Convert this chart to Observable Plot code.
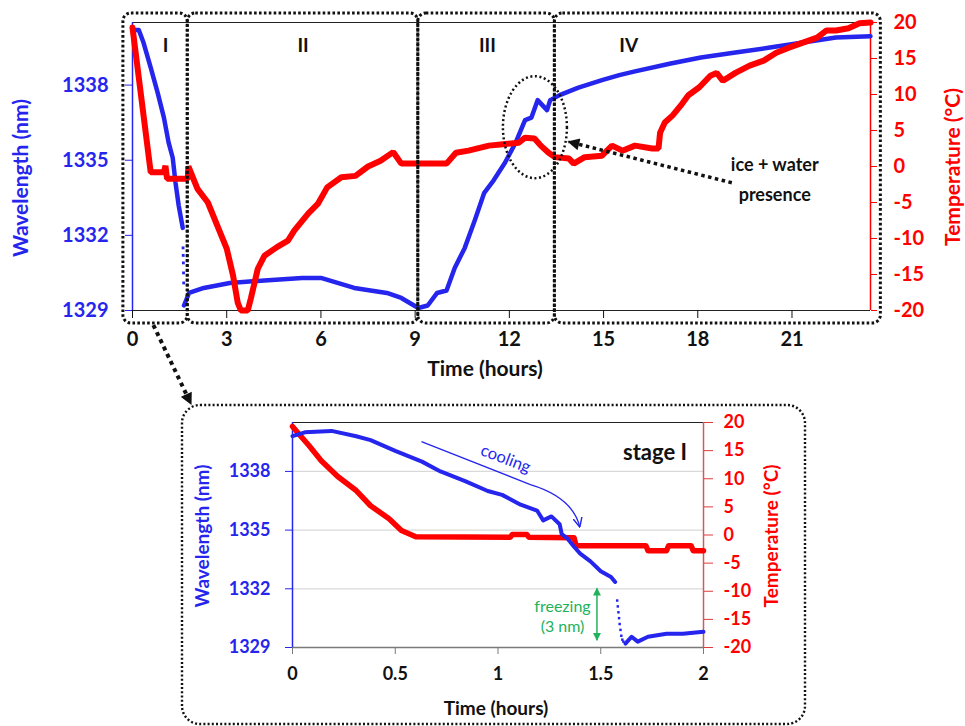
<!DOCTYPE html>
<html>
<head>
<meta charset="utf-8">
<script src="https://cdn.jsdelivr.net/npm/d3@7"></script>
<script src="https://cdn.jsdelivr.net/npm/@observablehq/plot@0.6"></script>
<style>
  body { margin: 0; background: #fff; }
  #wrap { position: relative; width: 965px; height: 726px; overflow: hidden; font-family: Lato, "Open Sans", sans-serif; }
  #main, #inset, #over { position: absolute; }
  #main { left: 0; top: 0; }
  #inset { left: 180px; top: 395px; }
  #over { left: 0; top: 0; pointer-events: none; }
</style>
</head>
<body>
<div id="wrap">
  <div id="main"></div>
  <div id="inset"></div>
  <svg id="over" width="965" height="726"></svg>
</div>
<script>
// ---------------- DATA ----------------
// Main chart: wavelength (nm) vs time (hours)
const mainWlTimeA = [0, 0.2, 0.35, 0.58, 0.8, 1.0, 1.15, 1.28, 1.37, 1.47, 1.6];
const mainWlA     = [1340.2, 1340.2, 1339.7, 1338.7, 1337.7, 1336.7, 1335.7, 1335.1, 1334.1, 1333.2, 1332.3];
const mainDropTime = [1.61, 1.615, 1.62, 1.625, 1.63];
const mainDropWl   = [1331.5, 1331.2, 1330.9, 1330.5, 1330.1];
const mainWlTimeB = [1.64, 1.8, 2.27, 3.1, 4.2, 5.4, 6.0, 7.06, 8.1, 8.56, 9.1, 9.4, 9.7, 10.0, 10.26, 10.58, 10.9, 11.2, 11.5, 11.86, 12.2, 12.5, 12.7, 12.9, 13.2, 13.3, 13.6, 14.2, 14.95, 15.5, 16.0, 17.1, 18.1, 19.2, 20.3, 21.35, 22.4, 23.5];
const mainWlB     = [1329.2, 1329.7, 1329.9, 1330.1, 1330.2, 1330.3, 1330.3, 1329.9, 1329.7, 1329.5, 1329.1, 1329.2, 1329.7, 1329.8, 1330.7, 1331.5, 1332.6, 1333.7, 1334.2, 1334.9, 1335.7, 1336.6, 1336.7, 1337.4, 1337.0, 1337.4, 1337.6, 1337.9, 1338.2, 1338.4, 1338.55, 1338.85, 1339.1, 1339.3, 1339.5, 1339.7, 1339.9, 1339.95];

// Main chart: temperature (°C) vs time (hours)
const mainTempTime = [0, 0.58, 1.0, 1.05, 1.1, 1.3, 1.76, 1.78, 2.07, 2.4, 2.7, 3.0, 3.2, 3.35, 3.45, 3.67, 3.77, 3.99, 4.2, 4.6, 4.95, 5.15, 5.6, 5.9, 6.2, 6.65, 7.1, 7.5, 7.9, 8.3, 8.56, 10.0, 10.3, 10.7, 11.35, 11.8, 12.3, 12.5, 12.8, 13.0, 13.25, 13.45, 13.9, 14.05, 14.4, 14.95, 15.27, 15.6, 16.0, 16.55, 16.75, 16.8, 16.95, 17.2, 17.5, 17.7, 18.05, 18.4, 18.6, 18.8, 19.2, 19.65, 20.1, 20.5, 20.9, 21.35, 21.8, 22.1, 22.4, 22.8, 23.15, 23.5];
const mainTemp     = [19.3, -0.8, -0.8, 0.1, -1.7, -1.7, -1.7, 0, -3.1, -5, -8.2, -11.4, -15.1, -18.9, -20, -20, -18.3, -14.2, -12.4, -11.2, -10.3, -8.9, -6.5, -5.2, -2.9, -1.5, -1.3, 0, 0.8, 2.0, 0.4, 0.4, 1.9, 2.2, 2.9, 3.1, 3.3, 4.0, 3.9, 2.9, 1.9, 1.3, 1.1, 0.4, 1.3, 1.5, 2.9, 2.2, 2.9, 2.5, 2.5, 4.7, 6.1, 7.1, 8.7, 9.9, 11.0, 12.6, 13.0, 11.9, 13.0, 14.0, 14.7, 15.8, 16.5, 17.2, 17.9, 18.9, 18.9, 19.2, 19.9, 20];

// Inset (stage I): wavelength
const insWlTimeA = [0, 0.06, 0.19, 0.31, 0.38, 0.5, 0.63, 0.72, 0.84, 0.95, 1.02, 1.11, 1.19, 1.22, 1.26, 1.3, 1.31, 1.34, 1.37, 1.4, 1.45, 1.5, 1.55, 1.57];
const insWlA     = [1339.8, 1340.0, 1340.07, 1339.8, 1339.6, 1339.05, 1338.5, 1338.0, 1337.5, 1337.0, 1336.8, 1336.3, 1336.0, 1335.5, 1335.7, 1335.3, 1334.8, 1334.55, 1334.15, 1333.8, 1333.4, 1332.9, 1332.6, 1332.35];
const insDropTime = [1.58, 1.583, 1.586, 1.589, 1.592, 1.596, 1.6, 1.605, 1.61];
const insDropWl   = [1331.4, 1331.1, 1330.8, 1330.5, 1330.2, 1329.9, 1329.6, 1329.4, 1329.3];
const insWlTimeB = [1.62, 1.65, 1.68, 1.73, 1.82, 1.9, 2.0];
const insWlB     = [1329.2, 1329.55, 1329.3, 1329.55, 1329.7, 1329.7, 1329.8];

// Inset (stage I): temperature
const insTempTime = [0, 0.03, 0.08, 0.14, 0.22, 0.31, 0.38, 0.47, 0.53, 0.6, 1.06, 1.07, 1.14, 1.15, 1.37, 1.38, 1.72, 1.73, 1.82, 1.83, 1.94, 1.95, 2.0];
const insTemp     = [19.3, 18.0, 15.9, 13.2, 10.4, 7.9, 5.2, 2.9, 0.8, -0.3, -0.4, 0.1, 0.1, -0.4, -0.5, -1.9, -1.9, -2.8, -2.8, -1.9, -1.9, -2.8, -2.8];

// Ticks and labels
const mainXTicks = [0, 3, 6, 9, 12, 15, 18, 21];
const insXTicks = [0, 0.5, 1, 1.5, 2];
const wlTicks = [1329, 1332, 1335, 1338];
const tempTicks = [-20, -15, -10, -5, 0, 5, 10, 15, 20];
const stageNames = ["I", "II", "III", "IV"];
const stageStart = [-0.29, 1.76, 9.1, 13.45];
const stageEnd   = [1.76, 9.1, 13.45, 23.83];
const stageLabelTime = [1.05, 5.43, 11.3, 15.8];

// ---------------- SCALES ----------------
const WBOT = 1329, WTOP = 1340.5;
const toW = t => WBOT + (t + 20) * (WTOP - WBOT) / 40;
const toT = w => (w - WBOT) * 40 / (WTOP - WBOT) - 20;
const BLUE = "#2525ee", RED = "#ff0000", GREEN = "#23b25c", INK = "#111";
const FONT = "Lato, 'Open Sans', sans-serif";

const zip = (ts, vs) => ts.map((t, i) => ({t, v: vs[i]}));
const mBlueA = zip(mainWlTimeA, mainWlA), mBlueB = zip(mainWlTimeB, mainWlB), mDrop = zip(mainDropTime, mainDropWl);
const mRed = zip(mainTempTime, mainTemp);
const iBlueA = zip(insWlTimeA, insWlA), iBlueB = zip(insWlTimeB, insWlB), iDrop = zip(insDropTime, insDropWl);
const iRed = zip(insTempTime, insTemp);
const stages = stageNames.map((n, i) => ({n, s: stageStart[i], e: stageEnd[i], lt: stageLabelTime[i]}));

// ---------------- MAIN PLOT ----------------
const mainPlot = Plot.plot({
  width: 965, height: 385,
  marginLeft: 132, marginRight: 95, marginTop: 22, marginBottom: 75,
  x: {domain: [0, 23.5]},
  y: {domain: [WBOT, WTOP]},
  style: {fontFamily: FONT, background: "transparent", overflow: "visible"},
  marks: [
    Plot.ruleY([WTOP], {stroke: "#222", strokeWidth: 1.2}),
    Plot.ruleY([WBOT], {stroke: "#222", strokeWidth: 1.2}),
    Plot.ruleX([0], {stroke: BLUE, strokeWidth: 1.5}),
    Plot.ruleX([23.5], {stroke: RED, strokeWidth: 1.5}),
    Plot.line(mBlueA, {x: "t", y: "v", stroke: BLUE, strokeWidth: 4.5}),
    Plot.line(mBlueB, {x: "t", y: "v", stroke: BLUE, strokeWidth: 4.5}),
    Plot.dot(mDrop, {x: "t", y: "v", r: 1.6, symbol: "square", fill: BLUE}),
    Plot.line(mRed, {x: "t", y: d => toW(d.v), stroke: RED, strokeWidth: 6, strokeLinejoin: "miter"}),
    Plot.rect(stages, {x1: "s", x2: "e", y1: () => WBOT - 0.52, y2: () => WTOP + 0.36, rx: 8,
      fill: "none", stroke: INK, strokeWidth: 3, strokeDasharray: "2.6 2.3"}),
    Plot.text(stages, {x: "lt", y: () => 1339.56, text: "n", fontSize: 19, fontWeight: "bold", fill: INK}),
    Plot.text(["ice + water", "presence"], {x: () => 20.45, y: (d, i) => i === 0 ? 1334.8 : 1333.6, text: d => d,
      fontSize: 18, fontWeight: "bold", fill: INK}),
    Plot.axisX({ticks: mainXTicks, tickSize: 8, tickPadding: 13, color: INK, fontSize: 20, fontWeight: "bold", label: null, tickFormat: d => String(d)}),
    Plot.axisY({anchor: "left", ticks: wlTicks, tickSize: 7, tickPadding: 17, color: BLUE, fontSize: 20, fontWeight: "bold", label: null, tickFormat: d => String(d)}),
    Plot.axisY({anchor: "right", ticks: tempTicks.map(toW), tickSize: 6, tickPadding: 17, color: RED, fontSize: 20, fontWeight: "bold", label: null,
      tickFormat: w => String(Math.round(toT(w)))})
  ]
});
document.getElementById("main").appendChild(mainPlot);

// ---------------- INSET PLOT ----------------
const insetPlot = Plot.plot({
  width: 625, height: 330,
  marginLeft: 112, marginRight: 102, marginTop: 27, marginBottom: 78,
  x: {domain: [0, 2]},
  y: {domain: [WBOT, WTOP]},
  style: {fontFamily: FONT, background: "transparent", overflow: "visible"},
  marks: [
    Plot.ruleY([1332, 1335, 1338], {stroke: "#d9d9d9", strokeWidth: 1.3}),
    Plot.ruleY([WTOP], {stroke: "#222", strokeWidth: 1.2}),
    Plot.ruleY([WBOT], {stroke: "#7a7a7a", strokeWidth: 1.6}),
    Plot.ruleX([0], {stroke: BLUE, strokeWidth: 1.5}),
    Plot.ruleX([2], {stroke: "#cf5b5b", strokeWidth: 1.5}),
    Plot.line(iRed, {x: "t", y: d => toW(d.v), stroke: RED, strokeWidth: 5.5}),
    Plot.line(iBlueA, {x: "t", y: "v", stroke: BLUE, strokeWidth: 4}),
    Plot.line(iBlueB, {x: "t", y: "v", stroke: BLUE, strokeWidth: 4}),
    Plot.dot(iDrop, {x: "t", y: "v", r: 1.4, symbol: "square", fill: BLUE}),
    Plot.text(["stage I"], {x: () => 1.92, y: () => 1338.95, text: d => d, textAnchor: "end", fontSize: 22, fontWeight: "bold", fill: INK}),
    Plot.text(["cooling"], {x: () => 1.037, y: () => 1338.64, text: d => d, rotate: 21, fontSize: 16.5, fill: BLUE}),
    Plot.text(["freezing", "(3 nm)"], {x: () => 1.314, y: (d, i) => i === 0 ? 1331.1 : 1330.05, text: d => d, fontSize: 16, fill: GREEN}),
    Plot.axisX({ticks: insXTicks, tickSize: 7, tickPadding: 13, stroke: "#7a7a7a", fill: INK, fontSize: 18, fontWeight: "bold", label: null, tickFormat: d => String(d)}),
    Plot.axisY({anchor: "left", ticks: wlTicks, tickSize: 7, tickPadding: 15, color: BLUE, fontSize: 18, fontWeight: "bold", label: null, tickFormat: d => String(d)}),
    Plot.axisY({anchor: "right", ticks: tempTicks.map(toW), tickSize: 9, tickPadding: 11, stroke: "#e03a3a", fill: RED, fontSize: 18, fontWeight: "bold", label: null,
      tickFormat: w => String(Math.round(toT(w)))})
  ]
});
document.getElementById("inset").appendChild(insetPlot);

// ---------------- OVERLAY ANNOTATIONS ----------------
const xm = v => mainPlot.scale("x").apply(v);
const ym = v => mainPlot.scale("y").apply(v);
const xi = v => 180 + insetPlot.scale("x").apply(v);
const yi = v => 395 + insetPlot.scale("y").apply(v);

const over = d3.select("#over");
const defs = over.append("defs");
defs.append("marker").attr("id", "blkTri").attr("viewBox", "0 0 10 10").attr("refX", 9).attr("refY", 5)
  .attr("markerUnits", "userSpaceOnUse").attr("markerWidth", 14).attr("markerHeight", 12).attr("orient", "auto")
  .append("path").attr("d", "M0,0 L10,5 L0,10 z").attr("fill", INK);
defs.append("marker").attr("id", "bluV").attr("viewBox", "0 0 10 10").attr("refX", 9).attr("refY", 5)
  .attr("markerUnits", "userSpaceOnUse").attr("markerWidth", 10).attr("markerHeight", 10).attr("orient", "auto")
  .append("path").attr("d", "M0,0.5 L9.5,5 L0,9.5").attr("fill", "none").attr("stroke", BLUE).attr("stroke-width", 1.4);
defs.append("marker").attr("id", "grnTri").attr("viewBox", "0 0 10 10").attr("refX", 9).attr("refY", 5)
  .attr("markerUnits", "userSpaceOnUse").attr("markerWidth", 9).attr("markerHeight", 8).attr("orient", "auto-start-reverse")
  .append("path").attr("d", "M0,0 L10,5 L0,10 z").attr("fill", GREEN);

// ellipse around ice+water region
over.append("ellipse")
  .attr("cx", xm(12.83)).attr("cy", ym(1336.3)).attr("rx", 32).attr("ry", 51)
  .attr("fill", "none").attr("stroke", INK).attr("stroke-width", 2.5).attr("stroke-dasharray", "2 2.6");

// arrow from text to ellipse
over.append("line")
  .attr("x1", xm(19.1)).attr("y1", ym(1334.08)).attr("x2", xm(13.9)).attr("y2", ym(1335.72))
  .attr("stroke", INK).attr("stroke-width", 3.5).attr("stroke-dasharray", "3.5 3.5").attr("marker-end", "url(#blkTri)");

// arrow from stage I box to inset
over.append("line")
  .attr("x1", xm(0.68)).attr("y1", ym(1328.4)).attr("x2", 191).attr("y2", 404)
  .attr("stroke", INK).attr("stroke-width", 4).attr("stroke-dasharray", "4 4").attr("marker-end", "url(#blkTri)");

// inset dotted rounded box
over.append("rect").attr("x", 182).attr("y", 405).attr("width", 623).attr("height", 319).attr("rx", 18)
  .attr("fill", "none").attr("stroke", INK).attr("stroke-width", 2.4).attr("stroke-dasharray", "2 2.2");

// cooling curved arrow
{
  const s = [xi(0.63), yi(1339.5)], m = [xi(1.16), yi(1337.3)], c = [xi(1.365), yi(1336.65)], e = [xi(1.4), yi(1335.15)];
  over.append("path").attr("d", `M${s} L${m} Q${c} ${e}`).attr("fill", "none").attr("stroke", BLUE).attr("stroke-width", 1.3)
    .attr("marker-end", "url(#bluV)");
}
// freezing double arrow
over.append("line")
  .attr("x1", xi(1.484)).attr("y1", yi(1332.0)).attr("x2", xi(1.484)).attr("y2", yi(1329.35))
  .attr("stroke", GREEN).attr("stroke-width", 1.5)
  .attr("marker-start", "url(#grnTri)").attr("marker-end", "url(#grnTri)");

// axis titles
function title(txt, x, y, rot, size, color) {
  over.append("text").attr("x", 0).attr("y", 0)
    .attr("transform", `translate(${x},${y}) rotate(${rot})`)
    .attr("text-anchor", "middle").attr("dominant-baseline", "middle")
    .attr("font-family", FONT).attr("font-size", size).attr("font-weight", "bold").attr("fill", color).text(txt);
}
title("Wavelength (nm)", 23, 178, -90, 21, BLUE);
title("Temperature (°C)", 955, 167, -90, 21, RED);
title("Time (hours)", 485, 371, 0, 21, INK);
title("Wavelength (nm)", 204, 536, -90, 19, BLUE);
title("Temperature (°C)", 773, 536, -90, 19, RED);
title("Time (hours)", 496, 710, 0, 19, INK);
</script>
</body>
</html>
